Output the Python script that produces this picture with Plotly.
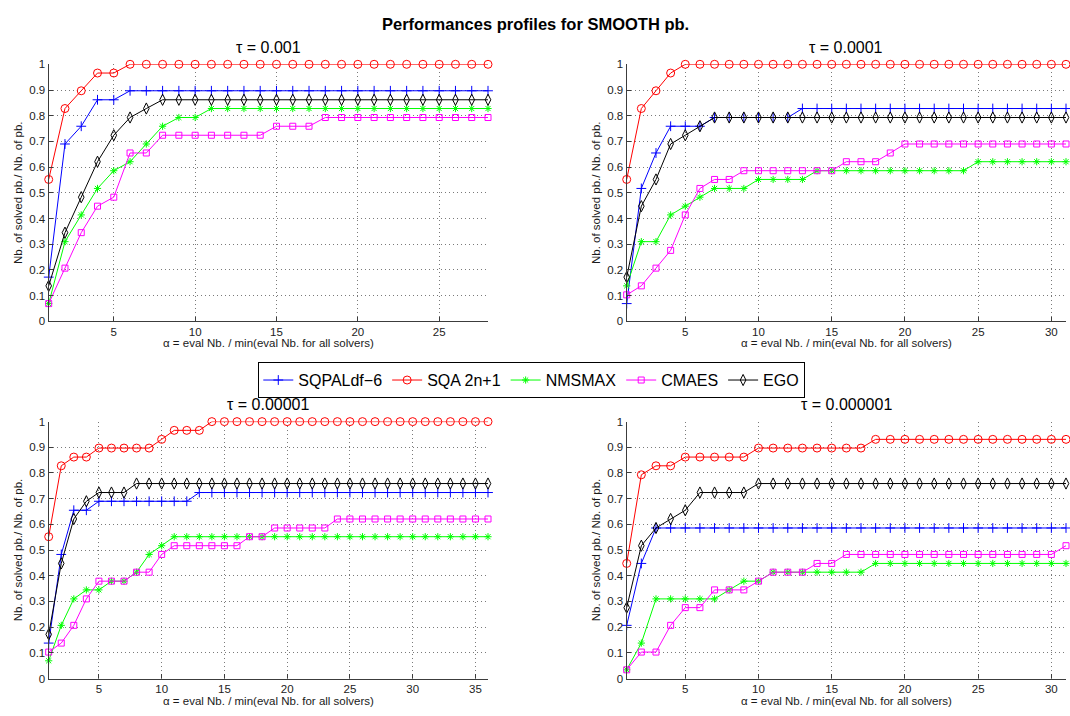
import plotly.graph_objects as go

# ---- solvers -------------------------------------------------------------
solvers = ["SQPALdf\u22126", "SQA 2n+1", "NMSMAX", "CMAES", "EGO"]
colors = ["#0000FF", "#FF0000", "#00FF00", "#FF00FF", "#000000"]
symbols = ["cross-thin-open", "circle-open", "asterisk-open", "square-open", "diamond-tall-open"]
marker_sizes = [7, 8, 6, 6, 8]

tau_labels = ["\u03c4 = 0.001", "\u03c4 = 0.0001", "\u03c4 = 0.00001", "\u03c4 = 0.000001"]
alpha_max = [28, 31, 36, 31]
x_ticks = [[5, 10, 15, 20, 25], [5, 10, 15, 20, 25, 30],
           [5, 10, 15, 20, 25, 30, 35], [5, 10, 15, 20, 25, 30]]
y_ticks = [0, 0.1, 0.2, 0.3, 0.4, 0.5, 0.6, 0.7, 0.8, 0.9, 1]
y_tick_text = ["0", "0.1", "0.2", "0.3", "0.4", "0.5", "0.6", "0.7", "0.8", "0.9", "1"]

# ---- tau = 0.001  (alpha = 1..28) ---------------------------------------
sqpal_t1 = [0.172, 0.690, 0.759, 0.862, 0.862, 0.897, 0.897, 0.897, 0.897, 0.897,
            0.897, 0.897, 0.897, 0.897, 0.897, 0.897, 0.897, 0.897, 0.897, 0.897,
            0.897, 0.897, 0.897, 0.897, 0.897, 0.897, 0.897, 0.897]
sqa_t1 = [0.552, 0.828, 0.897, 0.966, 0.966, 1.0, 1.0, 1.0, 1.0, 1.0,
          1.0, 1.0, 1.0, 1.0, 1.0, 1.0, 1.0, 1.0, 1.0, 1.0,
          1.0, 1.0, 1.0, 1.0, 1.0, 1.0, 1.0, 1.0]
nmsmax_t1 = [0.069, 0.310, 0.414, 0.517, 0.586, 0.621, 0.690, 0.759, 0.793, 0.793,
             0.828, 0.828, 0.828, 0.828, 0.828, 0.828, 0.828, 0.828, 0.828, 0.828,
             0.828, 0.828, 0.828, 0.828, 0.828, 0.828, 0.828, 0.828]
cmaes_t1 = [0.069, 0.207, 0.345, 0.448, 0.483, 0.655, 0.655, 0.724, 0.724, 0.724,
            0.724, 0.724, 0.724, 0.724, 0.759, 0.759, 0.759, 0.793, 0.793, 0.793,
            0.793, 0.793, 0.793, 0.793, 0.793, 0.793, 0.793, 0.793]
ego_t1 = [0.138, 0.345, 0.483, 0.621, 0.724, 0.793, 0.828, 0.862, 0.862, 0.862,
          0.862, 0.862, 0.862, 0.862, 0.862, 0.862, 0.862, 0.862, 0.862, 0.862,
          0.862, 0.862, 0.862, 0.862, 0.862, 0.862, 0.862, 0.862]

# ---- tau = 0.0001  (alpha = 1..31) --------------------------------------
sqpal_t2 = [0.069, 0.517, 0.655, 0.759, 0.759, 0.759, 0.793, 0.793, 0.793, 0.793,
            0.793, 0.793, 0.828, 0.828, 0.828, 0.828, 0.828, 0.828, 0.828, 0.828,
            0.828, 0.828, 0.828, 0.828, 0.828, 0.828, 0.828, 0.828, 0.828, 0.828,
            0.828]
sqa_t2 = [0.552, 0.828, 0.897, 0.966, 1.0, 1.0, 1.0, 1.0, 1.0, 1.0,
          1.0, 1.0, 1.0, 1.0, 1.0, 1.0, 1.0, 1.0, 1.0, 1.0,
          1.0, 1.0, 1.0, 1.0, 1.0, 1.0, 1.0, 1.0, 1.0, 1.0,
          1.0]
nmsmax_t2 = [0.138, 0.310, 0.310, 0.414, 0.448, 0.483, 0.517, 0.517, 0.517, 0.552,
             0.552, 0.552, 0.552, 0.586, 0.586, 0.586, 0.586, 0.586, 0.586, 0.586,
             0.586, 0.586, 0.586, 0.586, 0.621, 0.621, 0.621, 0.621, 0.621, 0.621,
             0.621]
cmaes_t2 = [0.103, 0.138, 0.207, 0.276, 0.414, 0.517, 0.552, 0.552, 0.586, 0.586,
            0.586, 0.586, 0.586, 0.586, 0.586, 0.621, 0.621, 0.621, 0.655, 0.690,
            0.690, 0.690, 0.690, 0.690, 0.690, 0.690, 0.690, 0.690, 0.690, 0.690,
            0.690]
ego_t2 = [0.172, 0.448, 0.552, 0.690, 0.724, 0.759, 0.793, 0.793, 0.793, 0.793,
          0.793, 0.793, 0.793, 0.793, 0.793, 0.793, 0.793, 0.793, 0.793, 0.793,
          0.793, 0.793, 0.793, 0.793, 0.793, 0.793, 0.793, 0.793, 0.793, 0.793,
          0.793]

# ---- tau = 0.00001  (alpha = 1..36) -------------------------------------
sqpal_t3 = [0.138, 0.483, 0.655, 0.655, 0.690, 0.690, 0.690, 0.690, 0.690, 0.690,
            0.690, 0.690, 0.724, 0.724, 0.724, 0.724, 0.724, 0.724, 0.724, 0.724,
            0.724, 0.724, 0.724, 0.724, 0.724, 0.724, 0.724, 0.724, 0.724, 0.724,
            0.724, 0.724, 0.724, 0.724, 0.724, 0.724]
sqa_t3 = [0.552, 0.828, 0.862, 0.862, 0.897, 0.897, 0.897, 0.897, 0.897, 0.931,
          0.966, 0.966, 0.966, 1.0, 1.0, 1.0, 1.0, 1.0, 1.0, 1.0,
          1.0, 1.0, 1.0, 1.0, 1.0, 1.0, 1.0, 1.0, 1.0, 1.0,
          1.0, 1.0, 1.0, 1.0, 1.0, 1.0]
nmsmax_t3 = [0.069, 0.207, 0.310, 0.345, 0.345, 0.379, 0.379, 0.414, 0.483, 0.517,
             0.552, 0.552, 0.552, 0.552, 0.552, 0.552, 0.552, 0.552, 0.552, 0.552,
             0.552, 0.552, 0.552, 0.552, 0.552, 0.552, 0.552, 0.552, 0.552, 0.552,
             0.552, 0.552, 0.552, 0.552, 0.552, 0.552]
cmaes_t3 = [0.103, 0.138, 0.207, 0.310, 0.379, 0.379, 0.379, 0.414, 0.414, 0.483,
            0.517, 0.517, 0.517, 0.517, 0.517, 0.517, 0.552, 0.552, 0.586, 0.586,
            0.586, 0.586, 0.586, 0.621, 0.621, 0.621, 0.621, 0.621, 0.621, 0.621,
            0.621, 0.621, 0.621, 0.621, 0.621, 0.621]
ego_t3 = [0.172, 0.448, 0.621, 0.690, 0.724, 0.724, 0.724, 0.759, 0.759, 0.759,
          0.759, 0.759, 0.759, 0.759, 0.759, 0.759, 0.759, 0.759, 0.759, 0.759,
          0.759, 0.759, 0.759, 0.759, 0.759, 0.759, 0.759, 0.759, 0.759, 0.759,
          0.759, 0.759, 0.759, 0.759, 0.759, 0.759]

# ---- tau = 0.000001  (alpha = 1..31) ------------------------------------
sqpal_t4 = [0.207, 0.448, 0.586, 0.586, 0.586, 0.586, 0.586, 0.586, 0.586, 0.586,
            0.586, 0.586, 0.586, 0.586, 0.586, 0.586, 0.586, 0.586, 0.586, 0.586,
            0.586, 0.586, 0.586, 0.586, 0.586, 0.586, 0.586, 0.586, 0.586, 0.586,
            0.586]
sqa_t4 = [0.448, 0.793, 0.828, 0.828, 0.862, 0.862, 0.862, 0.862, 0.862, 0.897,
          0.897, 0.897, 0.897, 0.897, 0.897, 0.897, 0.897, 0.931, 0.931, 0.931,
          0.931, 0.931, 0.931, 0.931, 0.931, 0.931, 0.931, 0.931, 0.931, 0.931,
          0.931]
nmsmax_t4 = [0.034, 0.138, 0.310, 0.310, 0.310, 0.310, 0.310, 0.345, 0.379, 0.379,
             0.414, 0.414, 0.414, 0.414, 0.414, 0.414, 0.414, 0.448, 0.448, 0.448,
             0.448, 0.448, 0.448, 0.448, 0.448, 0.448, 0.448, 0.448, 0.448, 0.448,
             0.448]
cmaes_t4 = [0.034, 0.103, 0.103, 0.207, 0.276, 0.276, 0.345, 0.345, 0.345, 0.379,
            0.414, 0.414, 0.414, 0.448, 0.448, 0.483, 0.483, 0.483, 0.483, 0.483,
            0.483, 0.483, 0.483, 0.483, 0.483, 0.483, 0.483, 0.483, 0.483, 0.483,
            0.517]
ego_t4 = [0.276, 0.517, 0.586, 0.621, 0.655, 0.724, 0.724, 0.724, 0.724, 0.759,
          0.759, 0.759, 0.759, 0.759, 0.759, 0.759, 0.759, 0.759, 0.759, 0.759,
          0.759, 0.759, 0.759, 0.759, 0.759, 0.759, 0.759, 0.759, 0.759, 0.759,
          0.759]

panels = [
    [sqpal_t1, sqa_t1, nmsmax_t1, cmaes_t1, ego_t1],
    [sqpal_t2, sqa_t2, nmsmax_t2, cmaes_t2, ego_t2],
    [sqpal_t3, sqa_t3, nmsmax_t3, cmaes_t3, ego_t3],
    [sqpal_t4, sqa_t4, nmsmax_t4, cmaes_t4, ego_t4],
]

# ---- page geometry (pixels) ---------------------------------------------
W, H = 1070, 716
x_doms_px = [(48.7, 488.0), (626.7, 1066.0), (48.7, 488.0), (626.7, 1066.0)]
y_doms_px = [(59.3, 320.7), (59.3, 320.7), (422.7, 684.0), (422.7, 684.0)]

FONT = "Liberation Sans, Arial, Helvetica, sans-serif"
AX_COLOR = "#3c3c3c"

fig = go.Figure()
layout = dict(
    width=W, height=H, autosize=False,
    margin=dict(l=0, r=0, t=0, b=0),
    paper_bgcolor="white", plot_bgcolor="white",
    font=dict(family=FONT, color="#1a1a1a"),
    showlegend=True,
    legend=dict(
        orientation="h", x=0.497, xanchor="center",
        y=1 - 380.5 / H, yanchor="middle",
        bordercolor="#000000", borderwidth=1, bgcolor="white",
        font=dict(family=FONT, size=16, color="#000000"),
        itemwidth=30, tracegroupgap=0, itemclick=False,
    ),
)

annotations = []
for p in range(4):
    ax_id = "" if p == 0 else str(p + 1)
    x0, x1 = x_doms_px[p]
    y0, y1 = y_doms_px[p]
    xd = [x0 / W, x1 / W]
    yd = [1 - y1 / H, 1 - y0 / H]
    n = alpha_max[p]
    alphas = list(range(1, n + 1))
    for s in range(5):
        fig.add_trace(go.Scatter(
            x=alphas, y=panels[p][s],
            xaxis="x" + ax_id, yaxis="y" + ax_id,
            mode="lines+markers",
            name=solvers[s], legendgroup=solvers[s], showlegend=(p == 0),
            line=dict(color=colors[s], width=1),
            marker=dict(symbol=symbols[s], size=marker_sizes[s],
                        color=colors[s], line=dict(color=colors[s], width=1)),
            cliponaxis=False,
        ))
    common = dict(
        showgrid=True, gridcolor="#7a7a7a", griddash="1px,3px", gridwidth=1,
        zeroline=False, showline=True, linecolor=AX_COLOR, linewidth=1.3,
        ticks="inside", ticklen=4, tickcolor=AX_COLOR, tickwidth=1,
        tickfont=dict(family=FONT, size=11.5, color="#222222"),
        fixedrange=True,
    )
    layout["xaxis" + ax_id] = dict(
        common, domain=xd, range=[1, n], tickmode="array", tickvals=x_ticks[p],
        anchor="y" + ax_id,
    )
    layout["yaxis" + ax_id] = dict(
        common, domain=yd, range=[0, 1], tickmode="array", tickvals=y_ticks,
        ticktext=y_tick_text, anchor="x" + ax_id,
    )
    cx = (x0 + x1) / 2 / W
    # panel title
    annotations.append(dict(
        text=tau_labels[p], x=cx, y=1 - (y0 - 17) / H, xref="paper", yref="paper",
        showarrow=False, xanchor="center", yanchor="middle",
        font=dict(family=FONT, size=16, color="#000000"),
    ))
    # x axis title
    annotations.append(dict(
        text="\u03b1 = eval Nb. / min(eval Nb. for all solvers)",
        x=cx, y=1 - (y1 + 22.5) / H, xref="paper", yref="paper",
        showarrow=False, xanchor="center", yanchor="middle",
        font=dict(family=FONT, size=11.5, color="#1a1a1a"),
    ))
    # y axis title
    annotations.append(dict(
        text="Nb. of solved pb./ Nb. of pb.",
        x=(x0 - 30.5) / W, y=1 - ((y0 + y1) / 2) / H, xref="paper", yref="paper",
        showarrow=False, xanchor="center", yanchor="middle", textangle=-90,
        font=dict(family=FONT, size=11.5, color="#1a1a1a"),
    ))

annotations.append(dict(
    text="<b>Performances profiles for SMOOTH pb.</b>",
    x=535 / W, y=1 - 18 / H, xref="paper", yref="paper",
    showarrow=False, xanchor="center", yanchor="middle",
    font=dict(family=FONT, size=16.5, color="#000000"),
))
layout["annotations"] = annotations

fig.update_layout(**layout)
fig.write_html("out.html")
